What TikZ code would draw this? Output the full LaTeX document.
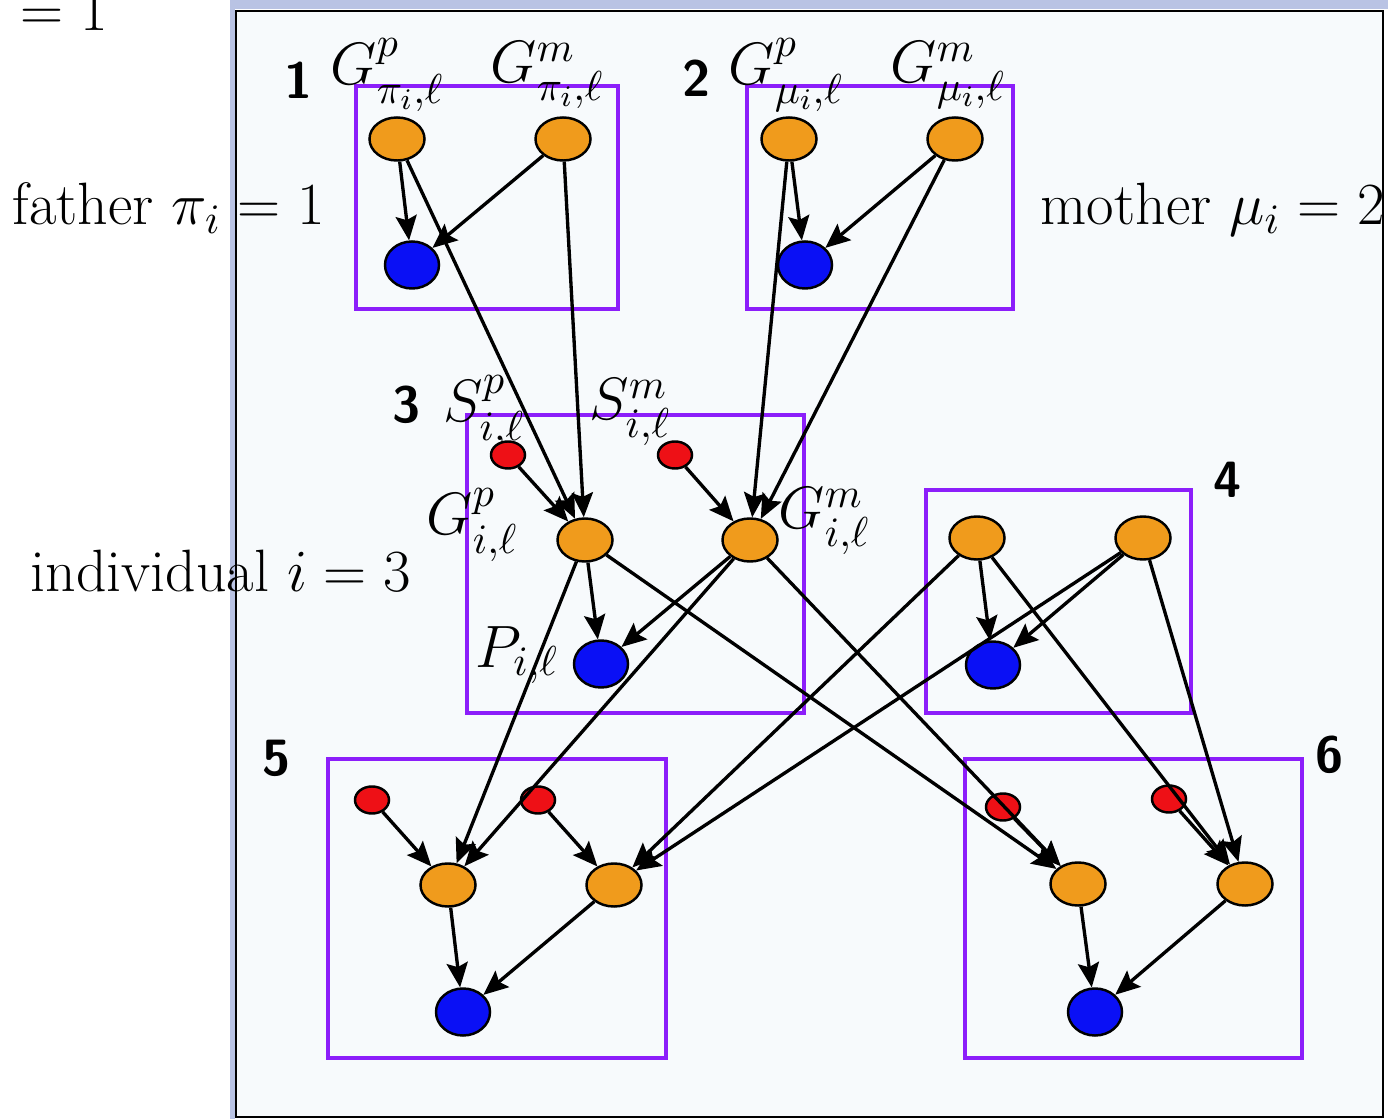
\RequirePackage{fix-cm}
\documentclass[tikz,border=0pt]{standalone}
\usepackage{fontspec}
\usepackage{amsmath}
\usetikzlibrary{arrows.meta, shapes.geometric}

\definecolor{geneorange}{RGB}{240,155,28}
\definecolor{segred}{RGB}{238,16,22}
\definecolor{phenoblue}{RGB}{10,16,245}
\definecolor{fampurple}{RGB}{140,30,250}
\definecolor{panelbg}{RGB}{247,250,252}
\definecolor{panelband}{RGB}{185,195,228}

\begin{document}
\begin{tikzpicture}[
    x=0.01cm, y=-0.01cm,
    gene/.style={draw, ellipse, fill=geneorange, minimum width=0.55cm, minimum height=0.43cm, inner sep=0pt, line width=0.7pt},
    seg/.style={gene, fill=segred, minimum width=0.34cm, minimum height=0.27cm},
    pheno/.style={gene, fill=phenoblue, minimum width=0.54cm, minimum height=0.47cm},
    fam/.style={draw=fampurple, line width=0.9pt},
    lab/.style={inner sep=0pt, anchor=base west, font=\fontsize{17}{20}\selectfont},
    num/.style={inner sep=0pt, font=\fontsize{14.5}{17}\selectfont\sffamily\bfseries},
    arr/.style={-{Stealth[length=7pt, width=6pt, inset=1.2pt]}, line width=0.95pt}
]
    \useasboundingbox (0,0) rectangle (1388,1119);

    % panel
    \fill[panelband] (230,0) rectangle (1388,9);
    \fill[panelband] (230,0) rectangle (235,1119);
    \filldraw[fill=panelbg, draw=black, line width=0.7pt] (236,11) rectangle (1383,1117);

    % family boxes
    \draw[fam] (356,86) rectangle (618,309);
    \draw[fam] (747,86) rectangle (1013,309);
    \draw[fam] (467,415) rectangle (804,713);
    \draw[fam] (926,490) rectangle (1191,713);
    \draw[fam] (328,759) rectangle (666,1058);
    \draw[fam] (965,759) rectangle (1302,1058);

    % texts
    \node[lab] (ltop) at (20,31) {$=1$};
    \node[lab] (lfather) at (12,225) {father $\pi_i=1$};
    \node[lab] (lmother) at (1040,225) {mother $\mu_i=2$};
    \node[lab] (lindiv) at (30,592) {individual $i=3$};

    \node[num] (n1) at (299,80) {1};
    \node[num] (n2) at (697,78) {2};
    \node[num] (n3) at (407,405) {3};
    \node[num] (n4) at (1228,480) {4};
    \node[num] (n5) at (277,758) {5};
    \node[num] (n6) at (1330,755) {6};

    \node[lab] (lg1p) at (330,85) {$G^p_{\pi_i,\ell}$};
    \node[lab] (lg1m) at (490,83) {$G^m_{\pi_i,\ell}$};
    \node[lab] (lg2p) at (728,85) {$G^p_{\mu_i,\ell}$};
    \node[lab] (lg2m) at (890,83) {$G^m_{\mu_i,\ell}$};
    \node[lab] (ls3p) at (443,422) {$S^p_{i,\ell}$};
    \node[lab] (ls3m) at (589,420) {$S^m_{i,\ell}$};
    \node[lab] (lg3p) at (426,535) {$G^p_{i,\ell}$};
    \node[lab] (lg3m) at (778,529) {$G^m_{i,\ell}$};
    \node[lab] (lp3) at (475,667) {$P_{i,\ell}$};

    % father 1
    \node[gene] (g1p) at (397,139) {};
    \node[gene] (g1m) at (563,139) {};
    \node[pheno] (p1) at (412,265) {};
    % mother 2
    \node[gene] (g2p) at (789,139) {};
    \node[gene] (g2m) at (955,139) {};
    \node[pheno] (p2) at (805,265) {};
    % individual 3
    \node[seg] (s3p) at (508,455) {};
    \node[seg] (s3m) at (675,455) {};
    \node[gene] (g3p) at (585,540) {};
    \node[gene] (g3m) at (750,540) {};
    \node[pheno] (p3) at (601,664) {};
    % 4
    \node[gene] (g4p) at (977,538) {};
    \node[gene] (g4m) at (1143,538) {};
    \node[pheno] (p4) at (993,665) {};
    % 5
    \node[seg] (s5p) at (372,800) {};
    \node[seg] (s5m) at (538,800) {};
    \node[gene] (g5p) at (448,885) {};
    \node[gene] (g5m) at (614,885) {};
    \node[pheno] (p5) at (463,1012) {};
    % 6
    \node[seg] (s6p) at (1003,807) {};
    \node[seg] (s6m) at (1169,799) {};
    \node[gene] (g6p) at (1078,884) {};
    \node[gene] (g6m) at (1245,884) {};
    \node[pheno] (p6) at (1095,1012) {};

    \foreach \a/\b in {g1p/p1, g1m/p1, g1p/g3p, g1m/g3p,
                       g2p/p2, g2m/p2, g2p/g3m, g2m/g3m,
                       s3p/g3p, s3m/g3m, g3p/p3, g3m/p3,
                       g4p/p4, g4m/p4,
                       g3p/g5p, g3m/g5p, g3p/g6p, g3m/g6p,
                       g4p/g5m, g4m/g5m, g4p/g6m, g4m/g6m,
                       s5p/g5p, s5m/g5m, g5p/p5, g5m/p5,
                       s6p/g6p, s6m/g6m, g6p/p6, g6m/p6}
        \draw[arr] (\a) -- (\b);
\end{tikzpicture}
\end{document}
